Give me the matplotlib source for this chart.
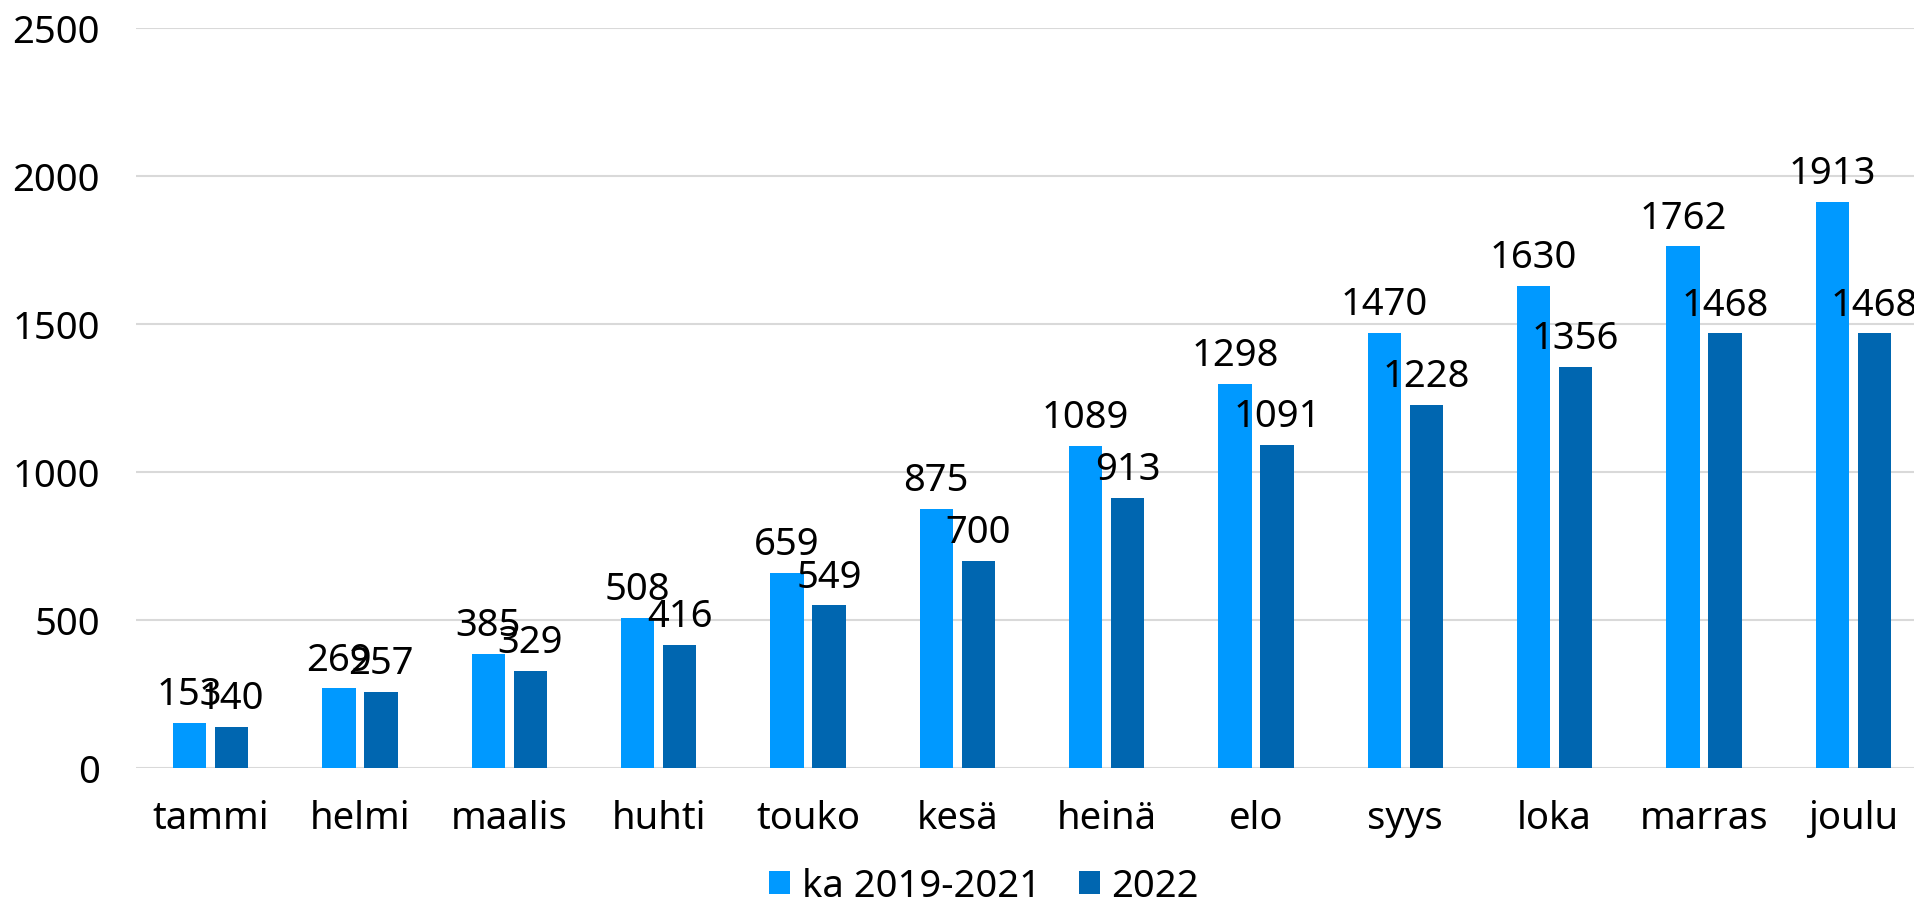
import matplotlib
matplotlib.use("Agg")
import matplotlib.pyplot as plt
import numpy as np

months = ["tammi", "helmi", "maalis", "huhti", "touko", "kesä", "heinä", "elo", "syys", "loka", "marras", "joulu"]
avg_2019_2021 = [153, 269, 385, 508, 659, 875, 1089, 1298, 1470, 1630, 1762, 1913]
y2022 = [140, 257, 329, 416, 549, 700, 913, 1091, 1228, 1356, 1468, 1468]
series_names = ["ka 2019-2021", "2022"]
yticks = [0, 500, 1000, 1500, 2000, 2500]

light = "#0099FF"
dark = "#0066B0"
FS = 27.5

plt.rcParams['font.family'] = ['Noto Sans', 'DejaVu Sans']

W, H = 1914, 904
fig = plt.figure(figsize=(W / 100, H / 100), dpi=100)
ax_left = 136 / W
ax_bottom = (H - 769) / H
ax_top = (H - 29) / H
ax = fig.add_axes([ax_left, ax_bottom, 1 - ax_left, ax_top - ax_bottom])

x = np.arange(len(months))
bw = 0.224
off = 0.141
b1 = ax.bar(x - off, avg_2019_2021, bw, color=light, label=series_names[0], zorder=3)
b2 = ax.bar(x + off, y2022, bw, color=dark, label=series_names[1], zorder=3)

for bars, vals in ((b1, avg_2019_2021), (b2, y2022)):
    for r, v in zip(bars, vals):
        ax.annotate(str(v), (r.get_x() + r.get_width() / 2, v), xytext=(0, 7),
                    textcoords="offset points", ha="center", va="bottom", fontsize=FS, zorder=4)

ax.set_ylim(0, 2500)
ax.set_yticks(yticks)
ax.set_xlim(-0.5, 11.5 - 14 / 149.4)
ax.set_xticks(x)
ax.set_xticklabels(months)
ax.grid(axis="y", color="#D9D9D9", linewidth=1.5, zorder=0)
for s in ax.spines.values():
    s.set_visible(False)
ax.tick_params(axis="both", length=0, labelsize=FS)
ax.tick_params(axis="y", pad=26)
ax.tick_params(axis="x", pad=22)

fig.legend(handles=[b1, b2], labels=series_names, loc="center", bbox_to_anchor=(984 / W, (H - 887) / H),
           ncol=2, frameon=False, fontsize=FS, handlelength=0.55, handleheight=0.55,
           handletextpad=0.3, columnspacing=1.0, borderaxespad=0)

fig.savefig("out.png", dpi=100)
